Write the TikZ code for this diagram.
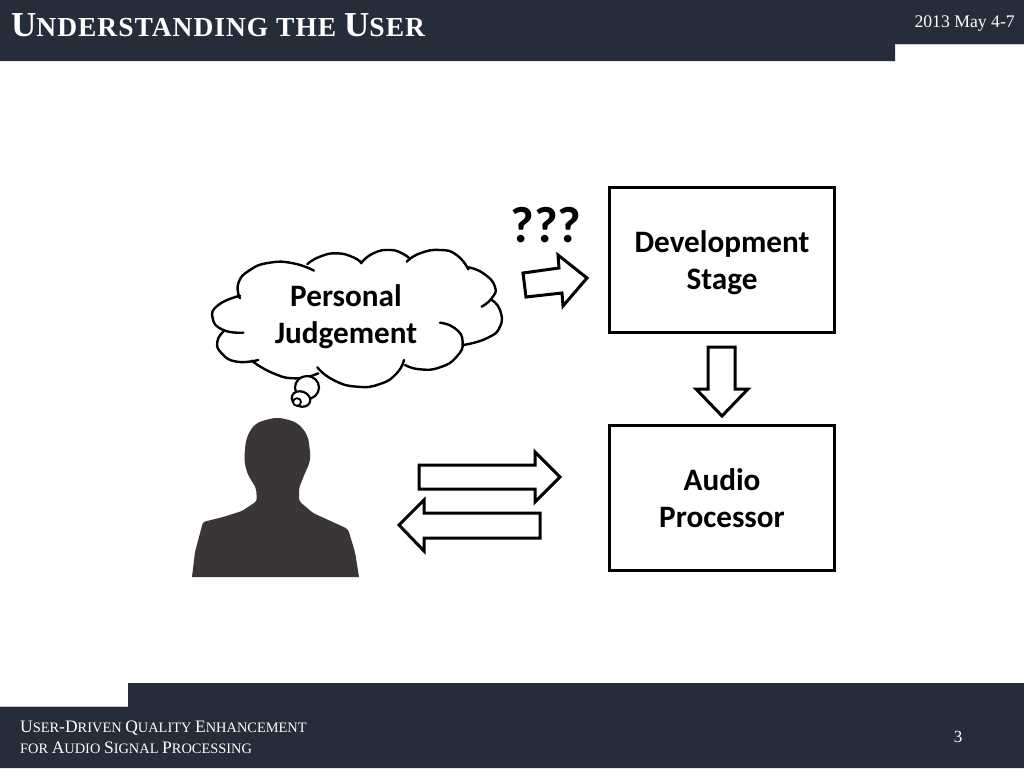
\documentclass[tikz,border=0pt]{standalone}
\usepackage{fontspec}
\setmainfont{Liberation Serif}
\newfontfamily\titlefont{Liberation Serif Bold}[LetterSpace=3.6]
\newfontfamily\lab{Carlito}[BoldFont={Carlito Bold}]
\definecolor{bar}{HTML}{252C3A}
\definecolor{notchgrey}{HTML}{C4C4CA}
\definecolor{person}{HTML}{3A3635}
\newcommand{\sz}[2]{\fontsize{#1}{#1}\selectfont #2}
\newcommand{\cloudlobe}[1]{\draw[lobe] plot[smooth,tension=0.9] coordinates {#1};}
\tikzset{
  lobe/.style={line width=2.4pt,line cap=round,line join=round,black},
  stagebox/.style={draw=black,line width=2.4pt,fill=white,minimum width=225pt,minimum height=145pt,inner sep=0pt,align=center,font=\lab\bfseries\fontsize{31.2}{37.5}\selectfont},
  blockarrow/.style={draw=black,line width=3pt,miter limit=10,fill=white},
  bartext/.style={white,inner sep=0pt},
  bubble/.style={draw=black,line width=2.2pt,fill=white}
}
\begin{document}
\begin{tikzpicture}[x=1pt,y=-1pt]
\useasboundingbox (0,0) rectangle (1024,768);
\fill[white] (0,0) rectangle (1024,768);
% header and footer
\fill[bar] (0,0) -- (1024,0) -- (1024,44) -- (895,44) -- (895,61) -- (0,61) -- cycle;
\draw[notchgrey,line width=1pt] (895,44.5) -- (1024,44.5);
\fill[bar] (128,683) -- (1024,683) -- (1024,768) -- (0,768) -- (0,707) -- (128,707) -- cycle;
\draw[notchgrey,line width=1pt] (0,706.5) -- (128,706.5);
\node[bartext,anchor=base west,font=\titlefont] (title) at (11,37) {\sz{35}{U}\sz{27.5}{NDERSTANDING THE }\sz{35}{U}\sz{27.5}{SER}};
\node[bartext,anchor=base east] (date) at (1015,28) {\sz{17.7}{2013 May 4-7}};
\node[bartext,anchor=base west] (foot1) at (20,732) {\sz{17.5}{U}\sz{14.4}{SER}\sz{17.5}{-D}\sz{14.4}{RIVEN }\sz{17.5}{Q}\sz{14.4}{UALITY }\sz{17.5}{E}\sz{14.4}{NHANCEMENT}};
\node[bartext,anchor=base west] (foot2) at (20,753) {\sz{14.4}{FOR }\sz{17.5}{A}\sz{14.4}{UDIO }\sz{17.5}{S}\sz{14.4}{IGNAL }\sz{17.5}{P}\sz{14.4}{ROCESSING}};
\node[bartext,anchor=base] (page) at (958,742) {\sz{17}{3}};
% boxes
\node[stagebox] (dev) at (722,260) {\rule{0pt}{27pt}Development\\Stage};
\node[stagebox] (proc) at (722,498) {Audio\\Processor};
% block arrows
\draw[blockarrow] (523,273) -- (559,268) -- (558,255) -- (587,278) -- (563,306) -- (562,293) -- (526,297) -- cycle;
\draw[blockarrow] (708,347) -- (735,347) -- (735,389) -- (748,389) -- (722,416) -- (696,389) -- (708,389) -- cycle;
\draw[blockarrow] (419,465) -- (535,465) -- (535,452) -- (560,477) -- (535,502) -- (535,489) -- (419,489) -- cycle;
\draw[blockarrow] (540,513) -- (424,513) -- (424,500) -- (399,525) -- (424,551) -- (424,538) -- (540,538) -- cycle;
\node[inner sep=0pt,font=\lab\bfseries\fontsize{51}{51}\selectfont] (ask) at (546,225) {???};
% thought cloud
\begin{scope}[shift={(190,230)},x=0.3333pt,y=-0.3333pt]
\cloudlobe{(150,205) (145,160) (180,120) (240,98) (310,100) (372,122)}
\cloudlobe{(352,102) (390,80) (440,70) (490,82) (515,100)}
\cloudlobe{(512,100) (550,70) (600,60) (640,72) (660,88)}
\cloudlobe{(650,95) (690,70) (750,60) (800,75) (835,118)}
\cloudlobe{(835,112) (880,130) (915,170) (905,205) (875,230)}
\cloudlobe{(905,210) (930,240) (930,290) (890,325) (820,345)}
\cloudlobe{(750,278) (795,295) (818,335) (800,380) (750,412) (690,418) (645,405)}
\cloudlobe{(642,390) (620,430) (570,462) (500,470) (430,450) (382,412)}
\cloudlobe{(385,430) (320,445) (250,430) (185,392)}
\cloudlobe{(205,390) (140,395) (95,370) (82,335) (100,305)}
\cloudlobe{(160,308) (100,300) (68,265) (85,225) (150,197)}
\end{scope}
\node[inner sep=0pt,align=center,font=\lab\bfseries\fontsize{31.2}{37.5}\selectfont] (judge) at (346,316.5) {Personal\\Judgement};
\draw[bubble] (307,387.5) ellipse [x radius=12pt,y radius=11.5pt];
\draw[bubble,rotate around={-20:(301,399)}] (301,399) ellipse [x radius=9.5pt,y radius=7.5pt];
\draw[bubble,line width=1.8pt] (297,402) ellipse [x radius=4pt,y radius=3.8pt];
% person
\fill[person] (192,577) [rounded corners=2pt] -- (195,552) -- (203,522) -- (223,517) -- (242,511) [rounded corners=3pt] -- (257,501) -- (256,488) -- (248,475) [rounded corners=7pt] -- (244,462) -- (246,438) -- (255,423) -- (277,417) -- (297,422) -- (308,435) -- (311,460) [rounded corners=3pt] -- (305,473) -- (299,488) -- (299,501) -- (313,513) -- (348,529) -- (355,552) [sharp corners] -- (359,577) -- cycle;
\end{tikzpicture}
\end{document}
